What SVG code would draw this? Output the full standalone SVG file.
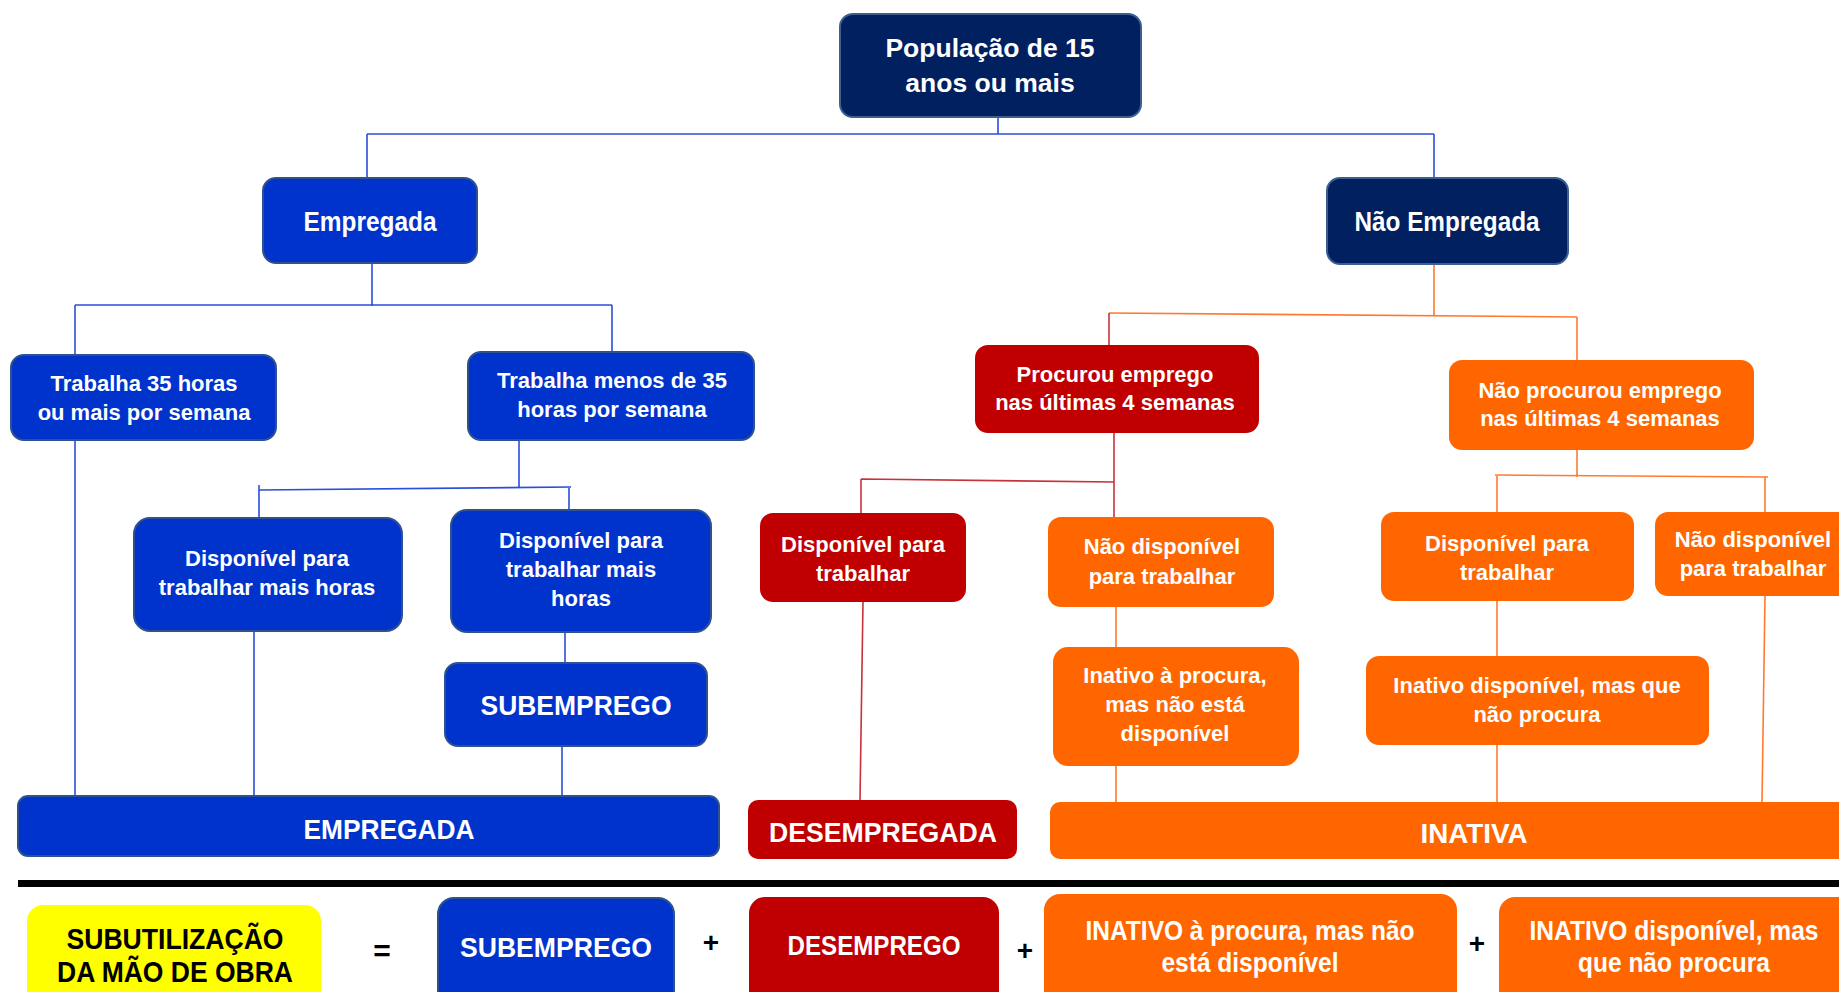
<svg xmlns="http://www.w3.org/2000/svg" width="1839" height="992" viewBox="0 0 1839 992">
<style>
text{font-family:"Liberation Sans",Arial,sans-serif;font-weight:bold;text-anchor:middle;fill:#fff}
.t22{font-size:22px}
.t26{font-size:26.5px}
.big{font-size:28px}
.navy{fill:#002060;stroke:#3c5f92;stroke-width:2}
.blue{fill:#0033cc;stroke:#2f528f;stroke-width:2}
.red{fill:#c00000}
.orange{fill:#ff6600}
.yellow{fill:#ffff00}
.cb{stroke:#2b4fd8;stroke-width:1.6;fill:none}
.cr{stroke:#c8323a;stroke-width:1.6;fill:none}
.co{stroke:#ff7a2e;stroke-width:1.6;fill:none}
.blk{fill:#000}
</style>
<rect width="1839" height="992" fill="#fff"/>
<g id="connectors">
<path class="cb" d="M998,117V134M367,134H1434M367,134V178M1434,134V178"/>
<path class="cb" d="M372,263V306M75,305H612M75,305V355M612,305V352M75,440V797"/>
<path class="cb" d="M519,440V488M259,490L571,487M259,485V518M569,487V510M254,631V796M565,632V663M562,746V796"/>
<path class="co" d="M1434,264V315M1109,313L1577,317M1577,317V360"/>
<path class="cr" d="M1109,313V345M1114,433V517M861,479L1114,482M861,479V513M863,602L860,800"/>
<path class="co" d="M1116,607V647M1116,766V802M1577,450V477M1495,475L1768,477M1497,475V512M1765,477V512M1497,601V656M1497,745V802M1765,596L1762,802"/>
</g>
<g id="n-pop"><rect class="navy" x="840" y="14" width="301" height="103" rx="13"/>
<text class="t26" x="990" y="57">População de 15</text><text class="t26" x="990" y="92">anos ou mais</text></g>
<g id="n-empregada"><rect class="blue" x="263" y="178" width="214" height="85" rx="13"/>
<text class="big" x="370" y="231" textLength="133" lengthAdjust="spacingAndGlyphs">Empregada</text></g>
<g id="n-naoempregada"><rect class="navy" x="1327" y="178" width="241" height="86" rx="13"/>
<text class="big" x="1447" y="231" textLength="185" lengthAdjust="spacingAndGlyphs">Não Empregada</text></g>
<g id="n-t35"><rect class="blue" x="11" y="355" width="265" height="85" rx="13"/>
<text class="t22" x="144" y="391">Trabalha 35 horas</text><text class="t22" x="144" y="420">ou mais por semana</text></g>
<g id="n-tmenos"><rect class="blue" x="468" y="352" width="286" height="88" rx="13"/>
<text class="t22" x="612" y="388">Trabalha menos de 35</text><text class="t22" x="612" y="417">horas por semana</text></g>
<g id="n-disp1"><rect class="blue" x="134" y="518" width="268" height="113" rx="16"/>
<text class="t22" x="267" y="566">Disponível para</text><text class="t22" x="267" y="595">trabalhar mais horas</text></g>
<g id="n-disp2"><rect class="blue" x="451" y="510" width="260" height="122" rx="16"/>
<text class="t22" x="581" y="548">Disponível para</text><text class="t22" x="581" y="577">trabalhar mais</text><text class="t22" x="581" y="606">horas</text></g>
<g id="n-subemprego"><rect class="blue" x="445" y="663" width="262" height="83" rx="13"/>
<text class="big" x="576" y="715" textLength="191" lengthAdjust="spacingAndGlyphs">SUBEMPREGO</text></g>
<g id="n-empregada-total"><rect class="blue" x="18" y="796" width="701" height="60" rx="10"/>
<text class="big" x="389" y="839" textLength="171" lengthAdjust="spacingAndGlyphs">EMPREGADA</text></g>
<g id="n-procurou"><rect class="red" x="975" y="345" width="284" height="88" rx="13"/>
<text class="t22" x="1115" y="382">Procurou emprego</text><text class="t22" x="1115" y="410">nas últimas 4 semanas</text></g>
<g id="n-naoprocurou"><rect class="orange" x="1449" y="360" width="305" height="90" rx="13"/>
<text class="t22" x="1600" y="398">Não procurou emprego</text><text class="t22" x="1600" y="426">nas últimas 4 semanas</text></g>
<g id="n-disp-red"><rect class="red" x="760" y="513" width="206" height="89" rx="13"/>
<text class="t22" x="863" y="552">Disponível para</text><text class="t22" x="863" y="581">trabalhar</text></g>
<g id="n-naodisp-mid"><rect class="orange" x="1048" y="517" width="226" height="90" rx="13"/>
<text class="t22" x="1162" y="554">Não disponível</text><text class="t22" x="1162" y="584">para trabalhar</text></g>
<g id="n-inativo-procura"><rect class="orange" x="1053" y="647" width="246" height="119" rx="15"/>
<text class="t22" x="1175" y="683">Inativo à procura,</text><text class="t22" x="1175" y="712">mas não está</text><text class="t22" x="1175" y="741">disponível</text></g>
<g id="n-disp-orange"><rect class="orange" x="1381" y="512" width="253" height="89" rx="13"/>
<text class="t22" x="1507" y="551">Disponível para</text><text class="t22" x="1507" y="580">trabalhar</text></g>
<g id="n-naodisp-right"><rect class="orange" x="1655" y="512" width="205" height="84" rx="13"/>
<text class="t22" x="1753" y="547">Não disponível</text><text class="t22" x="1753" y="576">para trabalhar</text></g>
<g id="n-inativo-disp"><rect class="orange" x="1366" y="656" width="343" height="89" rx="13"/>
<text class="t22" x="1537" y="693">Inativo disponível, mas que</text><text class="t22" x="1537" y="722">não procura</text></g>
<g id="n-desempregada"><rect class="red" x="748" y="800" width="269" height="59" rx="10"/>
<text class="big" x="883" y="842" textLength="228" lengthAdjust="spacingAndGlyphs">DESEMPREGADA</text></g>
<g id="n-inativa"><rect class="orange" x="1050" y="802" width="820" height="57" rx="10"/>
<text class="big" x="1474" y="843" textLength="107" lengthAdjust="spacingAndGlyphs">INATIVA</text></g>
<rect id="separator" class="blk" x="18" y="880" width="1830" height="7"/>
<g id="n-subutilizacao"><rect class="yellow" x="27" y="905" width="294" height="110" rx="16"/>
<text x="175" y="949" style="font-size:30px;fill:#000" textLength="217" lengthAdjust="spacingAndGlyphs">SUBUTILIZAÇÃO</text>
<text x="175" y="982" style="font-size:30px;fill:#000" textLength="236" lengthAdjust="spacingAndGlyphs">DA MÃO DE OBRA</text></g>
<text x="382" y="961" style="font-size:30px;fill:#000">=</text>
<g id="n-subemprego-b"><rect class="blue" x="438" y="898" width="236" height="115" rx="16"/>
<text class="big" x="556" y="957" textLength="192" lengthAdjust="spacingAndGlyphs">SUBEMPREGO</text></g>
<text x="711" y="952" style="font-size:28px;fill:#000">+</text>
<g id="n-desemprego-b"><rect class="red" x="749" y="897" width="250" height="115" rx="16"/>
<text class="big" x="874" y="955" textLength="173" lengthAdjust="spacingAndGlyphs">DESEMPREGO</text></g>
<text x="1025" y="960" style="font-size:28px;fill:#000">+</text>
<g id="n-inativo-procura-b"><rect class="orange" x="1044" y="894" width="413" height="118" rx="16"/>
<text class="big" x="1250" y="940" textLength="329" lengthAdjust="spacingAndGlyphs">INATIVO à procura, mas não</text>
<text class="big" x="1250" y="972" textLength="177" lengthAdjust="spacingAndGlyphs">está disponível</text></g>
<text x="1477" y="953" style="font-size:28px;fill:#000">+</text>
<g id="n-inativo-disp-b"><rect class="orange" x="1499" y="897" width="360" height="115" rx="16"/>
<text class="big" x="1674" y="940" textLength="289" lengthAdjust="spacingAndGlyphs">INATIVO disponível, mas</text>
<text class="big" x="1674" y="972" textLength="192" lengthAdjust="spacingAndGlyphs">que não procura</text></g>
</svg>
